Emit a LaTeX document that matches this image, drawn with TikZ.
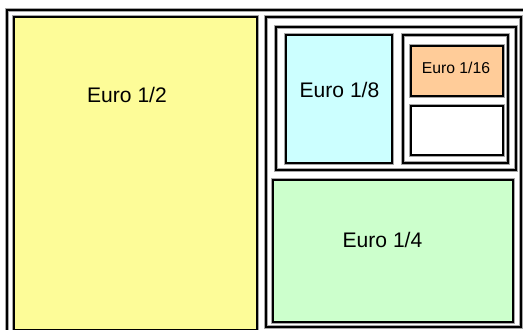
\documentclass[tikz,border=0pt]{standalone}
\usepackage{fontspec}
\setmainfont{Liberation Sans}
\usepackage{tikz}
\usetikzlibrary{calc}
\definecolor{euroyellow}{RGB}{253, 252, 152}
\definecolor{eurocyan}{RGB}{204, 255, 255}
\definecolor{euroorange}{RGB}{255, 204, 153}
\definecolor{eurogreen}{RGB}{204, 255, 204}
\begin{document}
\begin{tikzpicture}[
    x = 0.75pt, y = -0.75pt,
    d0/.style = {line width = 1.5pt, preaction = {draw = gray!70, line width = 2.3pt}},
    lbl/.style = {font = \fontsize{15.8}{18}\selectfont},
    lblsmall/.style = {font = \fontsize{11.8}{14}\selectfont}
]
\useasboundingbox (0,0) rectangle (523,329);
\clip (0,0) rectangle (523,329);

\draw[d0] (7,10) rectangle (545,345);

\draw[d0, fill = euroyellow] (14,17) rectangle (257,329.5);
\node[lbl] (half) at (127,95) {Euro 1/2};

\draw[d0] (266,17) rectangle (521,327);

\draw[d0] (276,27) rectangle (516,170);
\draw[d0, fill = eurocyan] (286,35) rectangle (392,163);
\node[lbl] (eighth) at (339.5,90) {Euro 1/8};

\draw[d0] (403,35) rectangle (508,163);
\draw[d0, fill = euroorange] (411,46) rectangle (503,96);
\node[lblsmall] (sixteenth) at (456,67.5) {Euro 1/16};
\draw[d0, fill = white] (411,106) rectangle (503,155);

\draw[d0, fill = eurogreen] (273,180) rectangle (513,322);
\node[lbl] (quarter) at (382.5,240) {Euro 1/4};

\end{tikzpicture}
\end{document}
